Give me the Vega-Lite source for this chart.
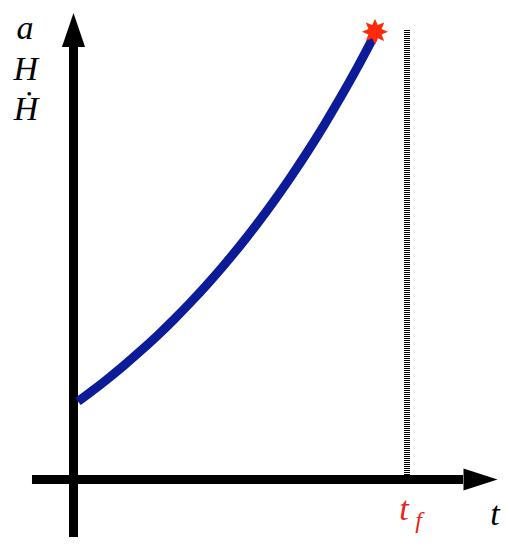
{
  "$schema": "https://vega.github.io/schema/vega-lite/v6.json",
  "width": 509,
  "height": 550,
  "padding": 0,
  "autosize": {"type": "fit", "contains": "padding"},
  "background": "white",
  "config": {"view": {"stroke": null}},
  "encoding": {
    "x": {"field": "t", "type": "quantitative", "axis": null, "scale": {"domain": [-0.22006, 1.30389], "nice": false, "zero": false}},
    "y": {"field": "y", "type": "quantitative", "axis": null, "scale": {"domain": [-0.705, 4.795], "nice": false, "zero": false}}
  },
  "layer": [
    {
      "data": {"values": [
        {"t": 0.9985, "y": 0.045, "t2": 0.9985, "y2": 4.495}
      ]},
      "mark": {"type": "rule", "stroke": "black", "strokeWidth": 6, "strokeDash": [1, 1], "strokeCap": "butt"},
      "encoding": {"x2": {"field": "t2"}, "y2": {"field": "y2"}}
    },
    {
      "data": {"values": [
        {"t": 0, "y": -0.575, "t2": 0, "y2": 4.33},
        {"t": -0.1243, "y": 0, "t2": 1.1662, "y2": 0}
      ]},
      "mark": {"type": "rule", "stroke": "black", "strokeWidth": 9, "strokeCap": "butt"},
      "encoding": {"x2": {"field": "t2"}, "y2": {"field": "y2"}}
    },
    {
      "data": {"values": [{"t": 0, "y": 4.495}]},
      "mark": {"type": "point", "shape": "M0,-1L0.68,1L-0.68,1Z", "size": 1156, "filled": true, "fill": "black", "opacity": 1, "strokeWidth": 0}
    },
    {
      "data": {"values": [{"t": 1.2186, "y": 0}]},
      "mark": {"type": "point", "shape": "M1,0L-1,0.65L-1,-0.65Z", "size": 1156, "filled": true, "fill": "black", "opacity": 1, "strokeWidth": 0}
    },
    {
      "data": {"values": [
        {"t": 0.0135, "y": 0.780},
        {"t": 0.05, "y": 0.871},
        {"t": 0.1, "y": 1.001},
        {"t": 0.15, "y": 1.138},
        {"t": 0.2, "y": 1.283},
        {"t": 0.25, "y": 1.436},
        {"t": 0.3, "y": 1.598},
        {"t": 0.35, "y": 1.770},
        {"t": 0.4, "y": 1.951},
        {"t": 0.45, "y": 2.142},
        {"t": 0.5, "y": 2.344},
        {"t": 0.55, "y": 2.558},
        {"t": 0.6, "y": 2.784},
        {"t": 0.65, "y": 3.023},
        {"t": 0.7, "y": 3.275},
        {"t": 0.75, "y": 3.542},
        {"t": 0.8, "y": 3.824},
        {"t": 0.85, "y": 4.121},
        {"t": 0.8982, "y": 4.424}
      ]},
      "mark": {"type": "line", "stroke": "#0c1b98", "strokeWidth": 9, "strokeCap": "butt", "interpolate": "monotone"}
    },
    {
      "data": {"values": [{"t": 0.9027, "y": 4.478}]},
      "mark": {"type": "point", "shape": "M0,-1L0.2105,-0.5082L0.7071,-0.7071L0.5082,-0.2105L1,0L0.5082,0.2105L0.7071,0.7071L0.2105,0.5082L0,1L-0.2105,0.5082L-0.7071,0.7071L-0.5082,0.2105L-1,0L-0.5082,-0.2105L-0.7071,-0.7071L-0.2105,-0.5082Z", "size": 676, "filled": true, "fill": "#ff2a0a", "opacity": 1, "strokeWidth": 0}
    },
    {
      "data": {"values": [
        {"t": -0.1452, "y": 4.402, "label": "a"},
        {"t": -0.1428, "y": 3.995, "label": "H"},
        {"t": -0.1422, "y": 3.595, "label": "Ḣ"},
        {"t": 1.2620, "y": -0.455, "label": "t"}
      ]},
      "mark": {"type": "text", "font": "Liberation Serif", "fontStyle": "italic", "fontSize": 34, "align": "center", "baseline": "alphabetic", "color": "black"},
      "encoding": {"text": {"field": "label"}}
    },
    {
      "data": {"values": [{"t": 0.9895, "y": -0.405, "label": "t"}]},
      "mark": {"type": "text", "font": "Liberation Serif", "fontStyle": "italic", "fontSize": 34, "align": "center", "baseline": "alphabetic", "color": "#e8231a"},
      "encoding": {"text": {"field": "label"}}
    },
    {
      "data": {"values": [{"t": 1.0329, "y": -0.485, "label": "f"}]},
      "mark": {"type": "text", "font": "Liberation Serif", "fontStyle": "italic", "fontSize": 24, "align": "center", "baseline": "alphabetic", "color": "#e8231a"},
      "encoding": {"text": {"field": "label"}}
    }
  ]
}
